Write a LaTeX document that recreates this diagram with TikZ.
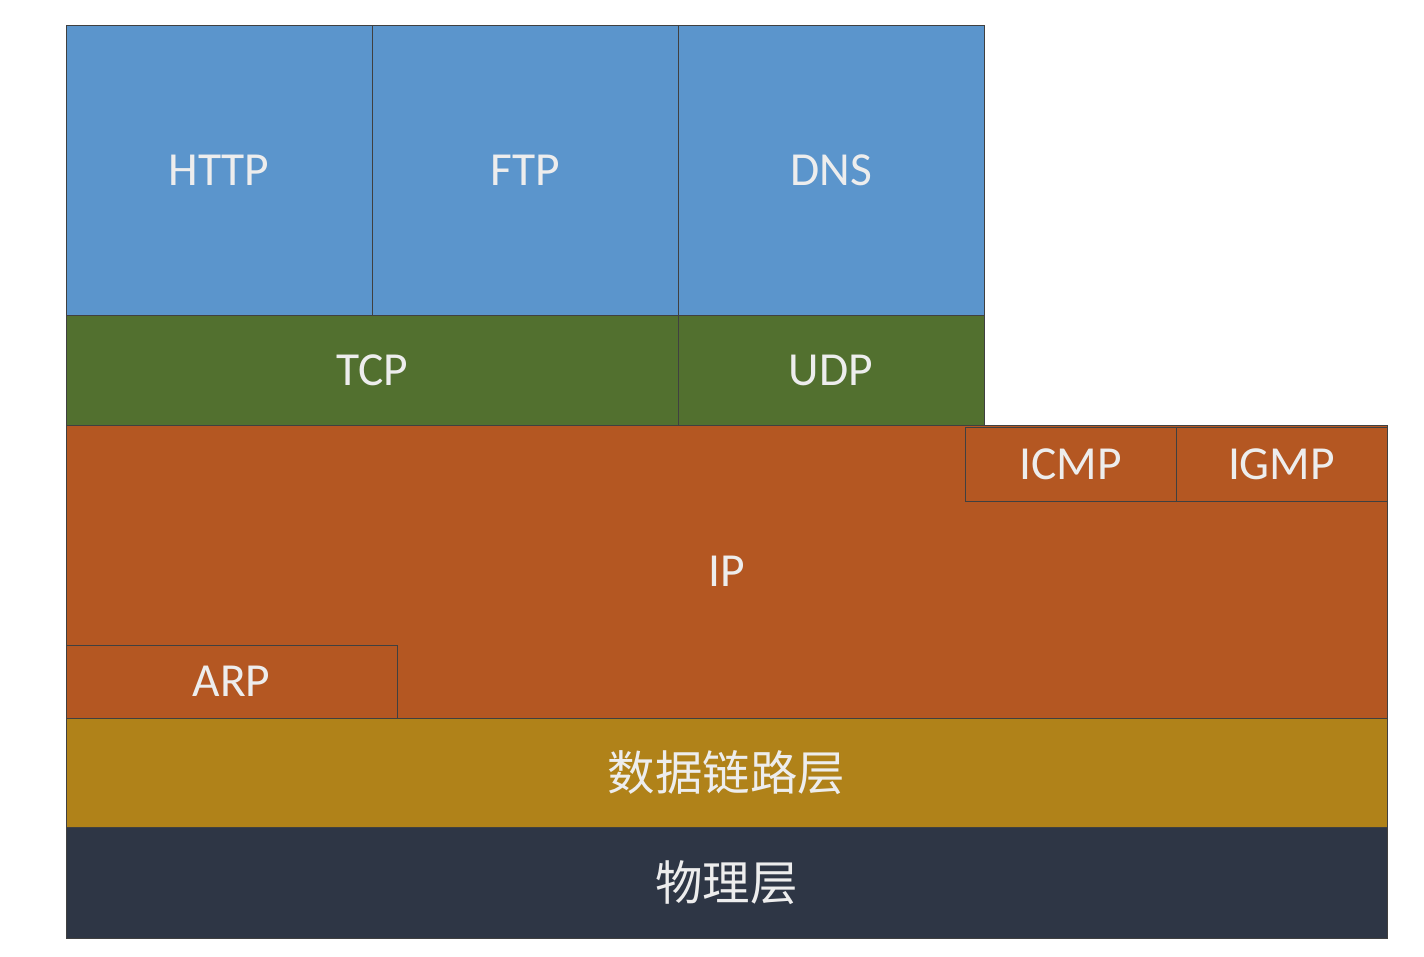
\documentclass[tikz,border=0pt]{standalone}
\usepackage{fontspec}
\setmainfont{Carlito}
\newfontfamily\cjk{Noto Sans CJK SC}
\definecolor{appblue}{HTML}{5B95CC}
\definecolor{tpgreen}{HTML}{52702F}
\definecolor{netorange}{HTML}{B45722}
\definecolor{linkgold}{HTML}{B08219}
\definecolor{phydark}{HTML}{2E3645}
\tikzstyle{layer} = [draw=black!75, rectangle, inner sep=0pt,
  text=white!93!black, font=\fontsize{27}{30}\selectfont]
\tikzstyle{app} = [layer, fill=appblue, minimum width=6.12cm, minimum height=5.8cm]
\tikzstyle{transport} = [layer, fill=tpgreen, minimum height=2.2cm]
\tikzstyle{network} = [layer, fill=netorange]
\tikzstyle{link} = [layer, fill=linkgold, minimum width=26.42cm]
\tikzstyle{phys} = [layer, fill=phydark, minimum width=26.42cm]

\begin{document}
\begin{tikzpicture}[x=0.02cm, y=-0.02cm]
        \useasboundingbox (0,0) rectangle (1424,957);
        \node [app]       (http) at (219,170)  {HTTP};
        \node [app]       (ftp)  at (525,170)  {FTP};
        \node [app]       (dns)  at (831,170)  {DNS};
        \node [transport, minimum width=12.24cm] (tcp) at (372,370) {TCP};
        \node [transport, minimum width=6.12cm]  (udp) at (831,370) {UDP};
        \node [network, minimum width=26.42cm, minimum height=5.86cm]
          (ip) at (726.5,571.5) {IP};
        \node [network, minimum width=4.22cm, minimum height=1.48cm]
          (icmp) at (1070.5,464) {ICMP};
        \node [network, minimum width=4.22cm, minimum height=1.48cm]
          (igmp) at (1281.5,464) {IGMP};
        \node [network, minimum width=6.62cm, minimum height=1.46cm]
          (arp) at (231.5,681.5) {ARP};
        \node [link, minimum height=2.18cm] (datalink) at (726.5,772.5)
          {\cjk 数据链路层};
        \node [phys, minimum height=2.22cm] (physical) at (726.5,882.5)
          {\cjk 物理层};
      \end{tikzpicture}
\end{document}
